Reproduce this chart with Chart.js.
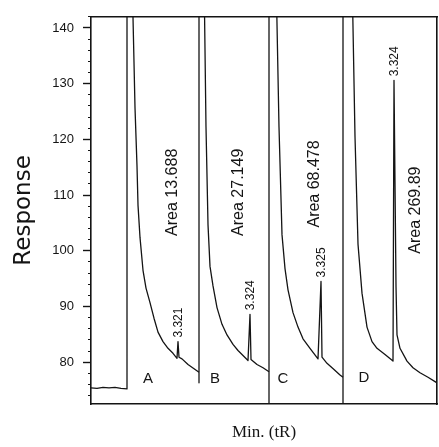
<!DOCTYPE html>
<html>
<head>
<meta charset="utf-8">
<script src="https://cdn.jsdelivr.net/npm/chart.js@4.4.0/dist/chart.umd.min.js"></script>
<style>
  html, body { margin: 0; padding: 0; background: #fff; }
</style>
</head>
<body>
<canvas id="chart" width="439" height="447"></canvas>
<script>
// Chromatogram traces, one per run (x = position along the time axis, y = response)
const runA_x = [0, 6, 12, 18, 24, 30, 36, 36, 41, 44, 46, 47, 49, 52, 55, 59, 63, 67, 72, 77, 82, 86, 87, 88, 91, 97, 108];
const runA_y = [75.4, 75.3, 75.5, 75.4, 75.5, 75.3, 75.2, 150, 150, 125.7, 115.2, 108.2, 102.4, 96.5, 93.3, 90.7, 87.9, 85.4, 83.7, 82.5, 81.6, 80.7, 83.7, 80.9, 80.6, 79.6, 78.2];

const runB_x = [108, 108, 108, 113, 115, 117, 119, 122, 126, 131, 136, 142, 147, 152, 157, 159, 160, 166, 172, 178];
const runB_y = [78.2, 76.3, 150, 150, 122.2, 104.7, 97.2, 93.7, 89.8, 86.8, 84.9, 83.2, 82.1, 81.2, 80.3, 88.6, 80.5, 79.6, 79.0, 78.3];

const runC_x = [178, 178, 178, 185, 188, 191, 194, 197, 202, 207, 212, 219, 227, 230, 231, 236, 243, 249, 252];
const runC_y = [78.3, 72.5, 150, 150, 122.2, 102.9, 96.8, 93.0, 88.9, 86.3, 84.2, 82.5, 80.6, 94.5, 80.9, 79.8, 78.7, 77.7, 77.3];

const runD_x = [252, 252, 252, 261, 264, 267, 271, 276, 281, 286, 294, 302, 303, 305, 306, 309, 316, 322, 329, 337, 346];
const runD_y = [77.3, 72.5, 150, 150, 120.5, 101.2, 92.4, 86.3, 83.7, 82.5, 81.4, 80.2, 130.6, 93.7, 84.9, 82.5, 80.2, 79.0, 78.1, 77.3, 76.3];

// Peak annotations
const panelLetters = ['A', 'B', 'C', 'D'];
const peakTimes = ['3.321', '3.324', '3.325', '3.324'];
const peakAreas = ['13.688', '27.149', '68.478', '269.89'];
const apexX = [87, 159, 230, 303];
const apexY = [83.7, 88.6, 94.5, 130.6];

// Label anchors in data units
const areaLabelX = [82, 148, 224, 325];
const areaLabelY = [110.5, 110.5, 112.0, 107.3];
const letterX = [57, 124, 192, 273];
const letterY = [77.0, 77.0, 77.0, 77.2];

const yTicks = [80, 90, 100, 110, 120, 130, 140];

const ink = '#141414';
const sans = '"Liberation Sans", Arial, Helvetica, sans-serif';

function toPoints(xs, ys) {
    return xs.map((x, i) => ({ x: x, y: ys[i] }));
}

const traces = [[runA_x, runA_y], [runB_x, runB_y], [runC_x, runC_y], [runD_x, runD_y]];

const datasets = traces.map((t, i) => ({
    label: 'Run ' + panelLetters[i],
    data: toPoints(t[0], t[1]),
    borderColor: ink,
    borderWidth: 1.3,
    borderJoinStyle: 'round',
    pointRadius: 0,
    tension: 0,
    fill: false,
    clip: 0
}));

// Draws the area / retention time / panel letter texts
const annotations = {
    id: 'annotations',
    afterDatasetsDraw(chart) {
        const { ctx } = chart;
        const x = chart.scales.x;
        const y = chart.scales.y;
        ctx.save();
        ctx.fillStyle = ink;

        ctx.font = '16px ' + sans;
        ctx.textAlign = 'center';
        ctx.textBaseline = 'middle';
        peakAreas.forEach((a, i) => {
            ctx.save();
            ctx.translate(x.getPixelForValue(areaLabelX[i]), y.getPixelForValue(areaLabelY[i]));
            ctx.rotate(-Math.PI / 2);
            ctx.fillText('Area ' + a, 0, 0);
            ctx.restore();
        });

        ctx.font = '12px ' + sans;
        ctx.textAlign = 'left';
        peakTimes.forEach((t, i) => {
            ctx.save();
            ctx.translate(x.getPixelForValue(apexX[i]) + 1, y.getPixelForValue(apexY[i]) - 4);
            ctx.rotate(-Math.PI / 2);
            ctx.fillText(t, 0, 0);
            ctx.restore();
        });

        ctx.font = '15px ' + sans;
        ctx.textAlign = 'center';
        panelLetters.forEach((l, i) => {
            ctx.fillText(l, x.getPixelForValue(letterX[i]), y.getPixelForValue(letterY[i]));
        });
        ctx.restore();
    }
};

const hidden = { display: false };

new Chart(document.getElementById('chart'), {
    type: 'line',
    data: { datasets: datasets },
    options: {
        responsive: false,
        animation: false,
        layout: { padding: { top: 7, right: 2, left: 0, bottom: 0 } },
        plugins: {
            legend: hidden,
            tooltip: { enabled: false }
        },
        scales: {
            x: {
                type: 'linear',
                min: 0,
                max: 346,
                position: 'bottom',
                grid: { display: true, drawOnChartArea: false, drawTicks: false },
                border: { display: true, color: ink, width: 1.6 },
                ticks: { display: false },
                title: {
                    display: true,
                    text: 'Min. (tR)',
                    color: ink,
                    font: { family: '"Liberation Serif", "Times New Roman", serif', size: 17 },
                    padding: { top: 0, bottom: 4 }
                },
                afterFit(scale) { scale.height = 43; }
            },
            xTop: {
                type: 'linear',
                min: 0,
                max: 346,
                position: 'top',
                grid: { drawOnChartArea: false, drawTicks: false },
                border: { display: true, color: ink, width: 1.6 },
                ticks: { display: false },
                afterFit(scale) { scale.height = 0; }
            },
            y: {
                type: 'linear',
                min: 72.5,
                max: 142,
                position: 'left',
                weight: 1,
                grid: { drawOnChartArea: false, drawTicks: true, tickLength: 8, color: ink, tickWidth: 1.4 },
                border: { display: true, color: ink, width: 1.6 },
                afterBuildTicks(scale) { scale.ticks = yTicks.map(v => ({ value: v })); },
                ticks: {
                    color: ink,
                    padding: 9,
                    font: { family: sans, size: 13 }
                },
                title: {
                    display: true,
                    text: 'Response',
                    color: ink,
                    font: { family: '"DejaVu Sans", sans-serif', size: 23 },
                    padding: { top: 10, bottom: 0 }
                },
                afterFit(scale) { scale.width = 91; }
            },
            yMinor: {
                type: 'linear',
                min: 72.5,
                max: 142,
                position: 'left',
                weight: 0,
                grid: { drawOnChartArea: false, drawTicks: true, tickLength: 3, color: ink, tickWidth: 1 },
                border: { display: false },
                ticks: { display: false, stepSize: 2, includeBounds: false },
                afterFit(scale) { scale.width = 0; }
            },
            yRight: {
                type: 'linear',
                min: 72.5,
                max: 142,
                position: 'right',
                grid: { drawOnChartArea: false, drawTicks: false },
                border: { display: true, color: ink, width: 1.6 },
                ticks: { display: false },
                afterFit(scale) { scale.width = 0; }
            }
        }
    },
    plugins: [annotations]
});
</script>
</body>
</html>
